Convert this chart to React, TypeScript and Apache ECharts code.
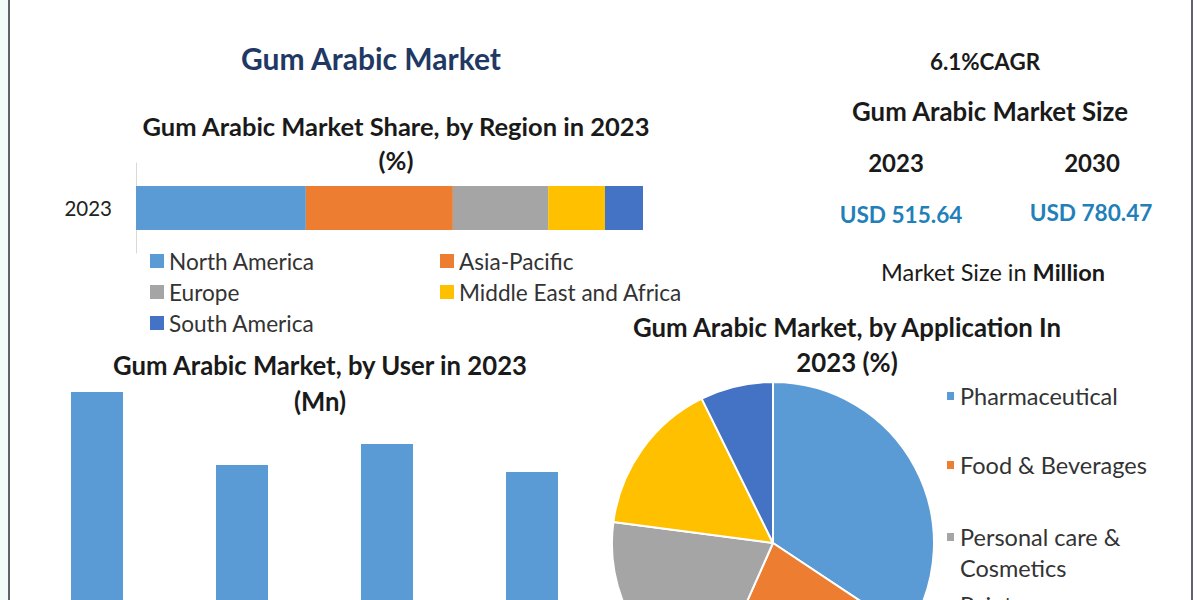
import React, { useEffect, useRef } from "react";
import * as echarts from "echarts";

// ---- Data ----
const regionCategories = ["2023"];
const regionNames = ["North America", "Asia-Pacific", "Europe", "Middle East and Africa", "South America"];
const regionShares = [33.5, 29.0, 18.8, 11.2, 7.5];
const regionColors = ["#5b9bd5", "#ed7d31", "#a5a5a5", "#ffc000", "#4472c4"];

const userCategories = ["User 1", "User 2", "User 3", "User 4"];
const userValues = [308, 235, 256, 228];

const applicationNames = ["Pharmaceutical", "Food & Beverages", "Personal care & Cosmetics", "Paints", "Others"];
const applicationShares = [34.3, 22.3, 20.4, 15.6, 7.3];
const applicationColors = ["#5b9bd5", "#ed7d31", "#a5a5a5", "#ffc000", "#4472c4"];

const FONT = "Lato, 'Noto Sans', sans-serif";

export default function App() {
  const ref = useRef<HTMLDivElement>(null);

  useEffect(() => {
    if (!ref.current) return;
    const chart = echarts.init(ref.current, undefined, { renderer: "svg" });

    const txt = (text: string, x: number, y: number, size: number, color: string, weight: string = "bold") => ({
      type: "text",
      x,
      y,
      style: {
        text,
        fill: color,
        font: `${weight} ${size}px ${FONT}`,
        textAlign: "center",
        textVerticalAlign: "middle",
      },
    });

    const regionSeries = regionNames.map((name, i) => ({
      name,
      type: "bar",
      stack: "region",
      xAxisIndex: 0,
      yAxisIndex: 0,
      barWidth: 44,
      itemStyle: { color: regionColors[i] },
      data: [regionShares[i]],
    }));

    const legendBase = {
      orient: "vertical",
      icon: "rect",
      itemGap: 0,
      selectedMode: false,
    };

    const pieLegendTops = [375.5, 444.5, 485.5, 584.5, 660];
    const pieLegends = applicationNames.map((name, i) => ({
      ...legendBase,
      left: 940,
      top: pieLegendTops[i],
      itemWidth: 9,
      itemHeight: 10,
      formatter: (n: string) => (n === "Personal care & Cosmetics" ? "\nPersonal care &\nCosmetics" : n),
      textStyle: {
        fontFamily: FONT,
        fontSize: 23.5,
        color: "#333333",
        lineHeight: 31,
      },
      data: [name],
    }));

    const option: any = {
      animation: false,
      backgroundColor: "#ffffff",
      graphic: [
        { type: "rect", shape: { x: 0, y: 0, width: 9, height: 600 }, style: { fill: "#f3fafa" } },
        { type: "line", shape: { x1: 9, y1: 0, x2: 9, y2: 600 }, style: { stroke: "#5f6368", lineWidth: 2 } },
        { type: "line", shape: { x1: 1192, y1: 0, x2: 1192, y2: 600 }, style: { stroke: "#5f6368", lineWidth: 2 } },
        txt("Gum Arabic Market", 371, 58, 30, "#1f3864"),
        txt("Gum Arabic Market Share, by Region in 2023", 396, 126, 25.5, "#1a1a1a"),
        txt("(%)", 396, 160, 25.5, "#1a1a1a"),
        txt("6.1%CAGR", 985, 61, 22.4, "#1a1a1a"),
        txt("Gum Arabic Market Size", 990, 111, 25.8, "#1a1a1a"),
        txt("2023", 896, 162, 24, "#1a1a1a"),
        txt("2030", 1092, 162, 24, "#1a1a1a"),
        txt("USD 515.64", 901, 214, 22.6, "#1f80ba"),
        txt("USD 780.47", 1091, 212, 22.6, "#1f80ba"),
        {
          type: "text",
          x: 993,
          y: 272,
          style: {
            text: "{a|Market Size in }{b|Million}",
            textAlign: "center",
            textVerticalAlign: "middle",
            rich: {
              a: { fontFamily: FONT, fontSize: 23.5, fontWeight: "normal", fill: "#1a1a1a" },
              b: { fontFamily: FONT, fontSize: 23.5, fontWeight: "bold", fill: "#1a1a1a" },
            },
          },
        },
        txt("Gum Arabic Market, by User in 2023", 320, 365, 25.7, "#1a1a1a"),
        txt("(Mn)", 320, 401, 25.7, "#1a1a1a"),
        txt("Gum Arabic Market, by Application In", 847, 327, 25.8, "#1a1a1a"),
        txt("2023 (%)", 847, 362, 25.8, "#1a1a1a"),
      ],
      grid: [
        { left: 136, right: 557, top: 163, height: 90, outerBoundsMode: "none" },
        { left: 24.5, right: 595.5, top: 300, height: 400, outerBoundsMode: "none" },
      ],
      xAxis: [
        { gridIndex: 0, type: "value", min: 0, max: 100, show: false },
        { gridIndex: 1, type: "category", data: userCategories, show: false },
      ],
      yAxis: [
        {
          gridIndex: 0,
          type: "category",
          data: regionCategories,
          axisLine: { show: true, lineStyle: { color: "#d9d9d9", width: 1 } },
          axisTick: { show: false },
          axisLabel: { fontFamily: FONT, fontSize: 20.5, color: "#222222", margin: 24 },
        },
        { gridIndex: 1, type: "value", min: 0, max: 400, show: false },
      ],
      legend: [
        {
          ...legendBase,
          left: 145,
          top: 240.5,
          itemWidth: 14,
          itemHeight: 14,
          textStyle: { fontFamily: FONT, fontSize: 22.6, color: "#333333", lineHeight: 31 },
          data: [regionNames[0], regionNames[2], regionNames[4]],
        },
        {
          ...legendBase,
          left: 435,
          top: 240.5,
          itemWidth: 14,
          itemHeight: 14,
          textStyle: { fontFamily: FONT, fontSize: 22.6, color: "#333333", lineHeight: 31 },
          data: [regionNames[1], regionNames[3]],
        },
        ...pieLegends,
      ],
      series: [
        ...regionSeries,
        {
          name: "User",
          type: "bar",
          xAxisIndex: 1,
          yAxisIndex: 1,
          barWidth: 52,
          itemStyle: { color: "#5b9bd5" },
          data: userValues,
        },
        {
          name: "Application",
          type: "pie",
          center: [773, 543],
          radius: 161,
          startAngle: 90,
          clockwise: true,
          label: { show: false },
          labelLine: { show: false },
          itemStyle: { borderColor: "#ffffff", borderWidth: 2 },
          data: applicationNames.map((name, i) => ({
            name,
            value: applicationShares[i],
            itemStyle: { color: applicationColors[i] },
          })),
        },
      ],
    };

    chart.setOption(option);
    return () => chart.dispose();
  }, []);

  return (
    <div
      ref={ref}
      style={{ position: "fixed", left: 0, top: 0, width: 1200, height: 600 }}
    />
  );
}
